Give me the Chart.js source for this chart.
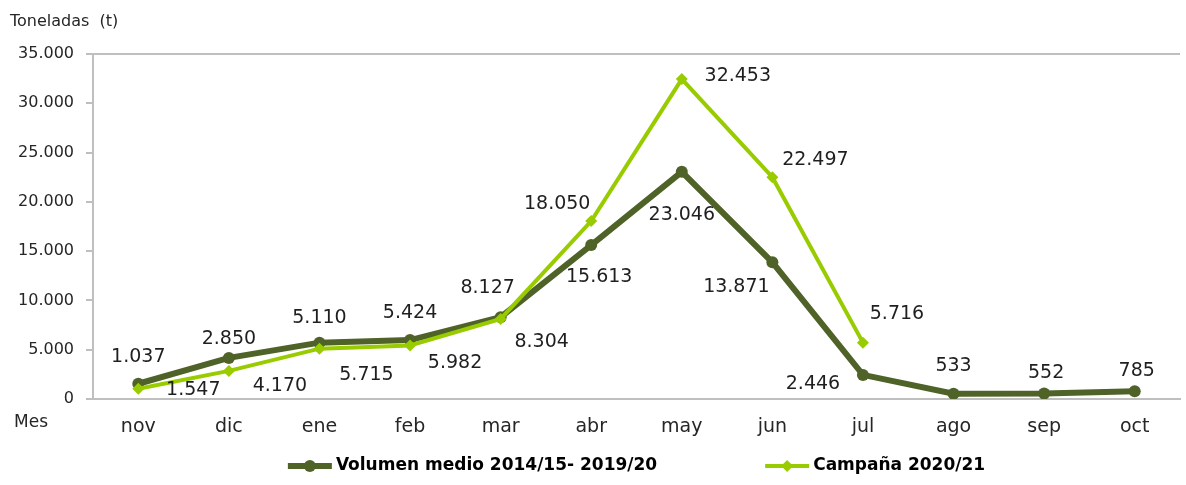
<!DOCTYPE html>
<html>
<head>
<meta charset="utf-8">
<script src="https://cdn.jsdelivr.net/npm/chart.js@4/dist/chart.umd.min.js"></script>
<style>
  html, body { margin: 0; padding: 0; background: #fff; }
  #wrap { width: 1186px; height: 485px; }
</style>
</head>
<body>
<div id="wrap"><canvas id="grafico"></canvas></div>
<script>
// datos
const meses = ["nov", "dic", "ene", "feb", "mar", "abr", "may", "jun", "jul", "ago", "sep", "oct"];
const volumenMedio = [1547, 4170, 5715, 5982, 8304, 15613, 23046, 13871, 2446, 533, 552, 785];
const campana2021 = [1037, 2850, 5110, 5424, 8127, 18050, 32453, 22497, 5716, null, null, null];
const yTicks = [0, 5000, 10000, 15000, 20000, 25000, 30000, 35000];

// donde va cada etiqueta respecto a su punto (dx, dy)
const offMedio = [[55, 6], [51, 28], [47, 32], [45, 23], [41, 25], [8, 32], [0, 43], [-36, 25], [-50, 9], [0, -28], [2, -20], [2, -20]];
const offCampana = [[0, -32], [0, -32], [0, -31], [0, -32], [-13, -31], [-34, -17], [56, -3], [43, -17], [34, -29]];

const OSCURO = "#4F6228";
const CLARO = "#99CC00";
const GRIS = "#BFBFBF";
const FUENTE = "'DejaVu Sans', sans-serif";

function fmt(v) {
  return String(v).replace(/\B(?=(\d{3})+(?!\d))/g, ".");
}

const etiquetas = {
  id: "etiquetas",
  afterDatasetsDraw(chart) {
    const ctx = chart.ctx;
    ctx.save();
    ctx.font = "19px " + FUENTE;
    ctx.fillStyle = "#1f1f1f";
    ctx.textAlign = "center";
    ctx.textBaseline = "middle";
    chart.data.datasets.forEach((ds, i) => {
      const meta = chart.getDatasetMeta(i);
      const offs = i === 0 ? offMedio : offCampana;
      meta.data.forEach((pt, j) => {
        const v = ds.data[j];
        if (v == null) return;
        const o = offs[j] || [0, -25];
        ctx.fillText(fmt(v), pt.x + o[0], pt.y + o[1]);
      });
    });
    ctx.restore();
  },
  afterDraw(chart) {
    const ctx = chart.ctx;
    const area = chart.chartArea;
    ctx.save();
    // titulos de ejes
    ctx.fillStyle = "#262626";
    ctx.textBaseline = "middle";
    ctx.textAlign = "left";
    ctx.font = "16px " + FUENTE;
    ctx.fillText("Toneladas  (t)", 10, 22);
    ctx.font = "17px " + FUENTE;
    ctx.fillText("Mes", 14, 423);

    // leyenda
    ctx.font = "bold 17px " + FUENTE;
    const items = chart.data.datasets.map((ds) => ({
      text: ds.label, color: ds.borderColor, lw: ds.borderWidth, style: ds.pointStyle
    }));
    const muestra = 44, hueco = 4, entre = 108;
    let total = 0;
    items.forEach((it, k) => {
      it.w = ctx.measureText(it.text).width;
      total += muestra + hueco + it.w + (k > 0 ? entre : 0);
    });
    let x = (area.left + area.right) / 2 - total / 2;
    const y = 466;
    items.forEach((it) => {
      ctx.strokeStyle = it.color;
      ctx.lineWidth = it.lw;
      ctx.beginPath();
      ctx.moveTo(x, y);
      ctx.lineTo(x + muestra, y);
      ctx.stroke();
      ctx.fillStyle = it.color;
      const cx = x + muestra / 2;
      ctx.beginPath();
      if (it.style === "circle") {
        ctx.arc(cx, y, 6, 0, Math.PI * 2);
      } else {
        ctx.moveTo(cx, y - 6); ctx.lineTo(cx + 6, y); ctx.lineTo(cx, y + 6); ctx.lineTo(cx - 6, y);
        ctx.closePath();
      }
      ctx.fill();
      ctx.fillStyle = "#000";
      ctx.fillText(it.text, x + muestra + hueco, y);
      x += muestra + hueco + it.w + entre;
    });
    ctx.restore();
  }
};

new Chart(document.getElementById("grafico"), {
  type: "line",
  data: {
    labels: meses,
    datasets: [
      {
        label: "Volumen medio 2014/15- 2019/20",
        data: volumenMedio,
        borderColor: OSCURO,
        backgroundColor: OSCURO,
        borderWidth: 6,
        pointStyle: "circle",
        pointRadius: 6,
        pointBorderWidth: 0,
        pointBackgroundColor: OSCURO,
        tension: 0,
        order: 1
      },
      {
        label: "Campaña 2020/21",
        data: campana2021,
        borderColor: CLARO,
        backgroundColor: CLARO,
        borderWidth: 4,
        pointStyle: "rectRot",
        pointRadius: 6,
        pointBorderWidth: 0,
        pointBackgroundColor: CLARO,
        tension: 0,
        spanGaps: false,
        order: 0
      }
    ]
  },
  options: {
    responsive: true,
    maintainAspectRatio: false,
    animation: false,
    layout: { padding: { top: 54, right: 0, bottom: 0, left: 0 } },
    plugins: {
      legend: { display: false },
      tooltip: { enabled: false }
    },
    scales: {
      x: {
        offset: true,
        grid: { display: false, drawTicks: false },
        border: { color: GRIS, width: 2 },
        ticks: { color: "#262626", font: { family: FUENTE, size: 19 }, padding: 17, maxRotation: 0 },
        afterFit(s) { s.height = 86; }
      },
      y: {
        min: 0,
        max: 35000,
        afterBuildTicks(s) { s.ticks = yTicks.map((v) => ({ value: v })); },
        grid: {
          color: (c) => (c.tick && c.tick.value === 35000 ? GRIS : "transparent"),
          lineWidth: 2,
          tickColor: GRIS,
          tickLength: 7,
          drawOnChartArea: true
        },
        border: { color: GRIS, width: 2 },
        ticks: {
          color: "#262626",
          font: { family: FUENTE, size: 16 },
          padding: 12,
          callback: (v) => fmt(v)
        },
        afterFit(s) { s.width = 93; }
      }
    }
  },
  plugins: [etiquetas]
});
</script>
</body>
</html>
